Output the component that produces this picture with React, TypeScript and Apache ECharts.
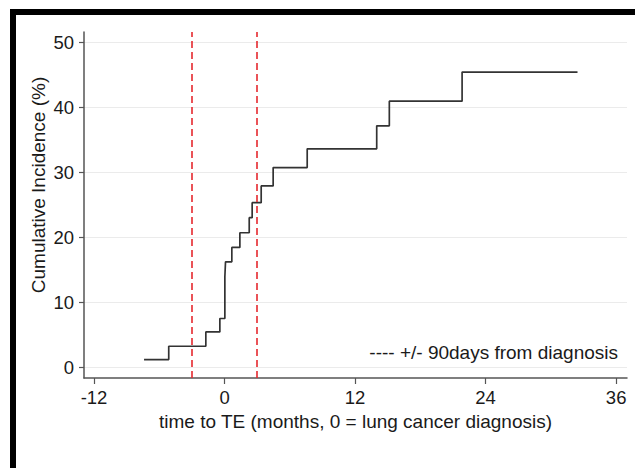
import React, { useEffect, useRef } from "react";
import * as echarts from "echarts";

const eventTimes = [-7.4, -5.13, -1.72, -0.43, 0.03, 0.09, 0.67, 1.41, 2.27, 2.54, 3.37, 4.47, 7.6, 13.99, 15.15, 21.84, 32.45];
const cumIncidence = [1.23, 3.28, 5.48, 7.55, 13.96, 16.27, 18.48, 20.73, 23.05, 25.36, 27.93, 30.75, 33.63, 37.17, 40.97, 45.44, 45.44];
const windowLines = [-3, 3];
const xTicks = [-12, 0, 12, 24, 36];
const yTicks = [0, 10, 20, 30, 40, 50];

const FONT = "'Liberation Sans', Arial, Helvetica, sans-serif";

export default function App() {
  const ref = useRef<HTMLDivElement>(null);
  useEffect(() => {
    if (!ref.current) return;
    const chart = echarts.init(ref.current, undefined, { renderer: "svg" });
    const data = eventTimes.map((t, i) => [t, cumIncidence[i]]);
    chart.setOption({
      animation: false,
      backgroundColor: "#ffffff",
      textStyle: { fontFamily: FONT },
      grid: { left: 84, right: 8, top: 32, bottom: 90, containLabel: false },
      xAxis: {
        type: "value",
        min: -12.92,
        max: 37.0,
        name: "time to TE (months, 0 = lung cancer diagnosis)",
        nameLocation: "middle",
        nameGap: 31,
        nameTextStyle: { fontSize: 19, color: "#1a1a1a", fontFamily: FONT },
        axisLine: { show: true, onZero: false, lineStyle: { color: "#555", width: 1.5 } },
        axisTick: { show: true, inside: false, length: 6, customValues: xTicks, lineStyle: { color: "#555", width: 1.2 } },
        axisLabel: { customValues: xTicks, fontSize: 18.5, color: "#1a1a1a", margin: 10, fontFamily: FONT },
        splitLine: { show: false },
      },
      yAxis: {
        type: "value",
        min: -1.6,
        max: 51.6,
        axisLine: { show: true, onZero: false, lineStyle: { color: "#555", width: 1.5 } },
        axisTick: { show: true, inside: false, length: 5, customValues: yTicks, lineStyle: { color: "#555", width: 1.2 } },
        axisLabel: { customValues: yTicks, fontSize: 18.5, color: "#1a1a1a", margin: 10, fontFamily: FONT },
        splitLine: { show: true, lineStyle: { color: "#ebebeb", width: 1.2 } },
      },
      series: [
        {
          type: "line",
          step: "end",
          data,
          symbol: "none",
          lineStyle: { color: "#333333", width: 1.7 },
          markLine: {
            silent: true,
            symbol: "none",
            label: { show: false },
            lineStyle: { color: "#e5282f", width: 1.6, type: [7, 4] },
            data: windowLines.map((v) => ({ xAxis: v })),
          },
        },
      ],
      graphic: [
        { type: "rect", shape: { x: 10, y: 9, width: 625, height: 6 }, style: { fill: "#000" } },
        { type: "rect", shape: { x: 10, y: 9, width: 6, height: 459 }, style: { fill: "#000" } },
        {
          type: "text",
          x: 38,
          y: 185,
          rotation: Math.PI / 2,
          style: {
            text: "Cumulative Incidence (%)",
            fontSize: 19,
            fontFamily: FONT,
            fill: "#1a1a1a",
            align: "center",
            verticalAlign: "middle",
          },
        },
        {
          type: "text",
          x: 618,
          y: 352,
          style: {
            text: "---- +/- 90days from diagnosis",
            fontSize: 19,
            fontFamily: FONT,
            fill: "#1a1a1a",
            align: "right",
            verticalAlign: "middle",
          },
        },
      ],
    });
    return () => chart.dispose();
  }, []);
  return <div ref={ref} style={{ position: "absolute", left: 0, top: 0, width: 635, height: 468 }} />;
}
